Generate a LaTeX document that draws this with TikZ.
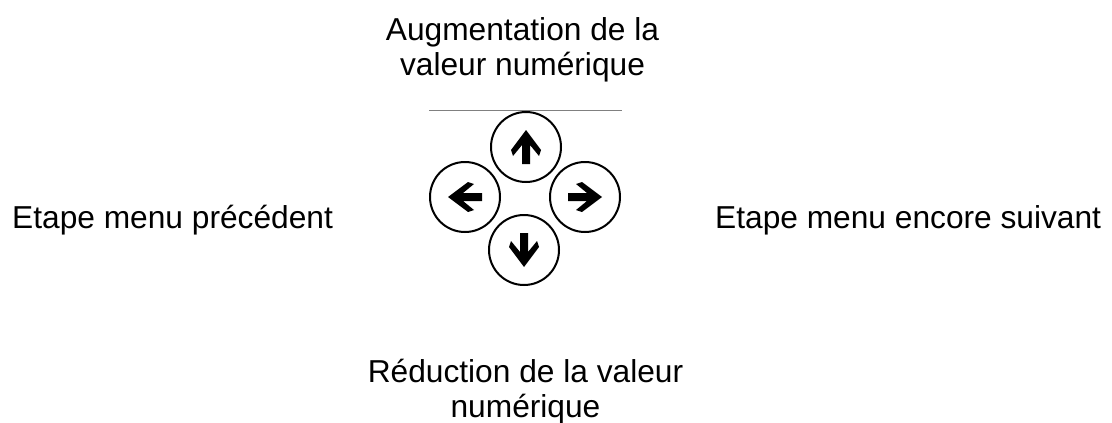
\documentclass[tikz,border=0pt]{standalone}
\usepackage{fontspec}
\setmainfont{Liberation Sans}
\tikzset{
  lbl/.style={font=\fontsize{31.7}{35}\selectfont, inner sep=0pt, align=center, anchor=base},
  btn/.style={circle, draw=black, line width=2pt, minimum size=70pt, inner sep=0pt},
  arr/.style={fill=black, draw=none},
}
\newcommand{\heavyarrow}[2]{% center, angle
  \fill[arr, shift={#1}, rotate=#2]
    (17,0) -- (-3,15) -- (-9,13) -- (2,4) -- (-17,4) -- (-17,-4) -- (2,-4) -- (-9,-13) -- (-3,-15) -- cycle;
}
\begin{document}
\begin{tikzpicture}[x=1pt,y=-1pt]
\useasboundingbox[fill=white] (0,0) rectangle (1112,423);
\node[lbl] (top) at (522.5,75) {Augmentation de la\\valeur numérique};
\node[lbl, anchor=base west] (left) at (12,228) {Etape menu précédent};
\node[lbl, anchor=base west] (right) at (715,228) {Etape menu encore suivant};
\node[lbl] (bottom) at (525.5,417) {Réduction de la valeur\\numérique};
\coordinate (la) at (429,110);
\coordinate (lb) at (622,110);
\draw[gray, line width=1pt] (la) -- (lb);
\node[btn] (up) at (526,147) {};
\node[btn] (lt) at (465,197) {};
\node[btn] (rt) at (585,197) {};
\node[btn] (dn) at (524,250) {};
\heavyarrow{(up)}{90}
\heavyarrow{(lt)}{180}
\heavyarrow{(rt)}{0}
\heavyarrow{(dn)}{-90}
\end{tikzpicture}
\end{document}
